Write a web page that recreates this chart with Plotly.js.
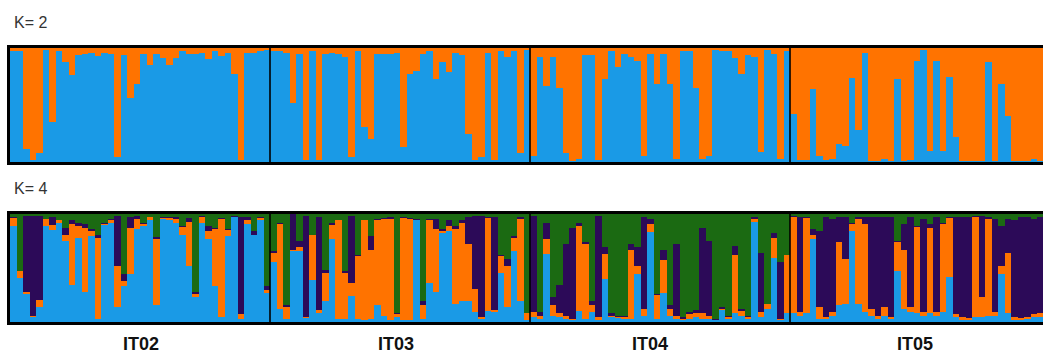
<!DOCTYPE html>
<html>
<head>
<meta charset="utf-8">
<script src="https://cdn.plot.ly/plotly-3.0.1.min.js"></script>
<style>html,body{margin:0;padding:0;background:#fff;}#chart{width:1043px;height:355px;}</style>
</head>
<body>
<div id="chart"></div>
<script>
// Populations and individuals (40 per population)
const populations = ["IT02", "IT03", "IT04", "IT05"];
const perPop = 40;

// K = 2 : orange cluster membership (%) per individual, blue is the remainder
const k2Orange = [
  // IT02
  3,3,89,98,92,2,65,3,12,24,6,5,4,7,4,5,96,6,44,32,5,15,5,9,15,9,3,5,5,4,10,3,7,4,23,98,4,4,3,2,
  // IT03
  3,3,4,48,5,98,3,98,5,4,5,8,96,3,69,80,5,5,5,4,87,23,20,5,3,27,12,21,4,6,75,98,96,4,98,3,8,3,92,2,
  // IT04
  95,8,33,8,35,92,99,97,6,6,98,27,3,17,5,8,11,95,5,32,5,32,97,3,3,35,97,95,2,3,3,9,23,6,8,91,2,5,97,3,
  // IT05
  58,98,98,36,95,98,97,84,86,26,72,4,99,99,97,99,27,99,98,11,2,90,11,90,25,78,99,99,99,99,12,99,32,60,99,99,99,97,99,98
];

// K = 4 : membership (%) per individual for each cluster
const k4Blue = [
  89,41,26,5,14,89,85,92,75,34,78,28,80,3,90,92,14,33,44,86,89,94,16,95,94,92,81,52,23,92,77,33,5,80,97,3,91,81,94,27,
  56,12,3,66,66,4,39,8,19,77,3,3,24,3,2,3,16,6,2,5,2,2,94,3,36,28,82,84,17,19,19,9,3,10,9,45,14,66,19,2,
  5,3,63,6,5,3,2,10,3,9,2,40,5,4,3,3,44,6,83,3,27,6,3,2,3,5,3,3,2,11,3,8,6,3,93,5,12,59,2,8,
  8,6,8,77,3,3,6,16,17,84,17,9,6,3,6,3,47,12,9,8,6,8,6,9,42,5,2,2,5,5,6,6,44,8,2,2,3,5,5,3
];
const k4Orange = [
  7,6,2,1,6,6,5,2,6,57,11,59,4,75,1,2,38,5,43,9,2,3,61,1,2,3,7,41,3,5,7,53,90,5,0,4,3,0,2,3,
  8,79,11,1,3,1,42,3,26,13,91,42,12,58,92,64,78,89,93,2,94,93,0,13,58,58,2,5,69,73,53,22,2,86,2,16,38,12,76,6,
  4,3,14,10,3,3,1,79,69,7,3,23,1,1,2,64,8,6,8,22,30,6,3,1,4,3,5,3,0,1,2,54,4,2,2,4,5,19,1,54,
  89,3,88,4,11,2,3,58,41,7,78,82,6,3,8,2,27,55,5,80,3,79,3,82,54,2,3,2,92,18,89,3,8,56,3,2,2,2,3,3
];
const k4Purple = [
  1,0,70,92,78,0,7,0,6,3,3,4,2,3,1,1,46,6,10,3,1,0,2,1,1,2,1,3,2,1,5,1,1,1,1,90,3,3,1,3,
  2,1,2,33,6,93,0,86,3,2,0,2,62,1,0,13,1,1,2,1,1,1,1,3,1,9,2,5,3,2,25,67,93,1,86,1,6,2,2,0,
  89,3,15,7,26,66,84,3,2,3,93,6,2,1,1,5,17,85,4,1,10,4,66,2,2,3,79,69,1,2,1,8,2,1,2,55,0,4,53,0,
  1,88,1,5,70,92,86,23,39,1,2,6,85,91,83,92,1,24,83,1,86,4,88,1,1,90,92,93,1,75,2,86,37,31,89,93,92,88,89,91
];
const k4Green = [
  3,53,2,2,2,5,3,6,13,6,8,9,14,19,8,5,2,56,3,2,8,3,21,3,3,3,11,4,72,2,11,13,4,14,2,3,3,16,3,67,
  34,8,84,0,25,2,19,3,52,8,6,53,2,38,6,20,5,4,3,92,3,4,5,81,5,5,14,6,11,6,3,2,2,3,3,38,42,20,3,92,
  2,91,8,77,66,28,13,8,26,81,2,31,92,94,94,28,31,3,5,74,33,84,28,95,91,89,13,25,97,86,94,30,88,94,3,36,83,18,44,38,
  2,3,3,14,16,3,5,3,3,8,3,3,3,3,3,3,25,9,3,11,5,9,3,8,3,3,3,3,2,2,3,5,11,5,6,3,3,5,3,3
];

const panelLabels = ["K= 2", "K= 4"];

const COL = {blue: "#1a9ae6", orange: "#ff7300", purple: "#2c0a58", green: "#1b6a12"};

const idx = k2Orange.map((_, i) => i);
const k2Blue = k2Orange.map(v => 100 - v);

function bar(y, color, xa, ya) {
  return {type: "bar", x: idx, y: y, xaxis: xa, yaxis: ya, width: 1,
          marker: {color: color, line: {width: 0}}, hoverinfo: "skip", showlegend: false};
}

const data = [
  bar(k2Blue, COL.blue, "x", "y"),
  bar(k2Orange, COL.orange, "x", "y"),
  bar(k4Blue, COL.blue, "x2", "y2"),
  bar(k4Orange, COL.orange, "x2", "y2"),
  bar(k4Purple, COL.purple, "x2", "y2"),
  bar(k4Green, COL.green, "x2", "y2")
];

const W = 1043, H = 355;
const xLeftPx = 10, barPx = 6.5;
const xRange = [-0.5, -0.5 + (W - xLeftPx) / barPx];
const k2Dom = [1 - 162 / H, 1 - 48 / H];
const k4Dom = [1 - 322 / H, 1 - 214 / H];

const axX = {domain: [xLeftPx / W, 1], range: xRange, visible: false, fixedrange: true};
const axY = d => ({domain: d, range: [0, 100], visible: false, fixedrange: true});

const shapes = [];
function frame(yref, hpx) {
  const ext = 1.5 / hpx;
  const l = {color: "#000", width: 3};
  shapes.push({type: "line", xref: "paper", yref: yref, x0: 7 / W, x1: 1.01, y0: 1 + ext, y1: 1 + ext, line: l});
  shapes.push({type: "line", xref: "paper", yref: yref, x0: 7 / W, x1: 1.01, y0: -ext, y1: -ext, line: l});
  shapes.push({type: "line", xref: "paper", yref: yref, x0: 8.5 / W, x1: 8.5 / W, y0: -2 * ext, y1: 1 + 2 * ext, line: l});
}
frame("y domain", 114);
frame("y2 domain", 108);
for (let p = 1; p < populations.length; p++) {
  const xv = p * perPop - 0.5;
  shapes.push({type: "line", xref: "x", yref: "y domain", x0: xv, x1: xv, y0: 0, y1: 1, line: {color: "#000", width: 1.6}});
  shapes.push({type: "line", xref: "x2", yref: "y2 domain", x0: xv, x1: xv, y0: 0, y1: 1, line: {color: "#000", width: 1.6}});
}

const labelFont = {family: "Liberation Sans, Arial, sans-serif", size: 16, color: "#333"};
const popFont = {family: "Liberation Sans Narrow, Arial Narrow, Liberation Sans, sans-serif", size: 18, color: "#111", weight: "bold"};
const annotations = [
  {text: panelLabels[0], xref: "paper", yref: "paper", x: 12 / W, y: 1 - 22 / H, xanchor: "left", yanchor: "middle", showarrow: false, font: labelFont},
  {text: panelLabels[1], xref: "paper", yref: "paper", x: 12 / W, y: 1 - 188 / H, xanchor: "left", yanchor: "middle", showarrow: false, font: labelFont}
];
const popCenters = [141, 396, 650, 915];
populations.forEach((p, i) => {
  annotations.push({text: "<b>" + p + "</b>", xref: "paper", yref: "paper", x: popCenters[i] / W, y: 1 - 344 / H,
                    xanchor: "center", yanchor: "middle", showarrow: false, font: popFont});
});

const layout = {
  width: W, height: H, margin: {l: 0, r: 0, t: 0, b: 0, pad: 0},
  paper_bgcolor: "#fff", plot_bgcolor: "#fff",
  barmode: "stack", bargap: 0,
  xaxis: Object.assign({anchor: "y"}, axX),
  yaxis: Object.assign({anchor: "x"}, axY(k2Dom)),
  xaxis2: Object.assign({anchor: "y2"}, axX),
  yaxis2: Object.assign({anchor: "x2"}, axY(k4Dom)),
  shapes: shapes, annotations: annotations, showlegend: false
};

Plotly.newPlot("chart", data, layout, {staticPlot: true, displayModeBar: false});
</script>
</body>
</html>
